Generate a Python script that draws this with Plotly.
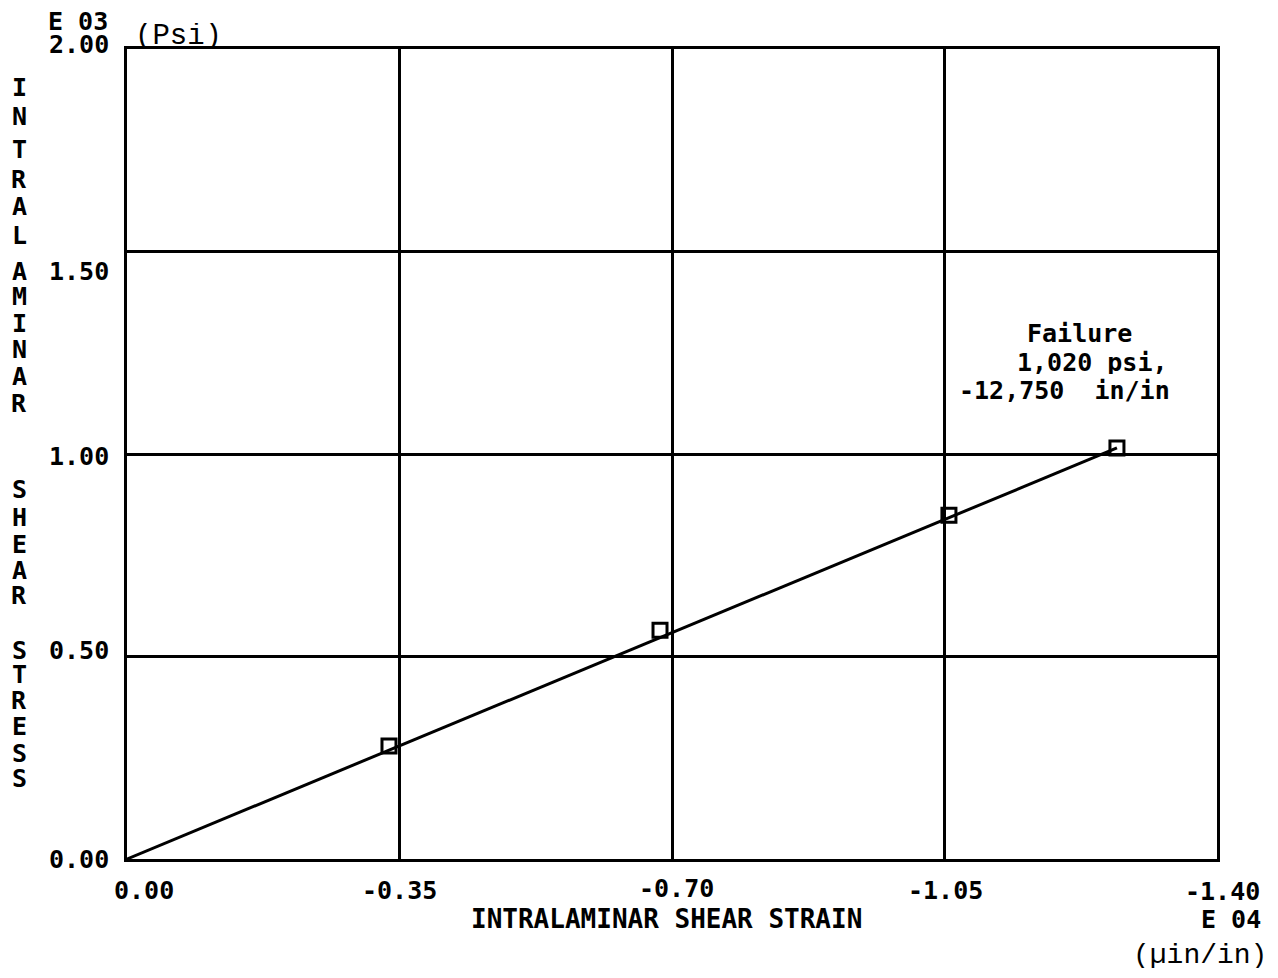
import plotly.graph_objects as go

# ---- data ----
x_ticks = [0.0, -0.35, -0.70, -1.05, -1.40]
x_tick_labels = ["0.00", "-0.35", "-0.70", "-1.05", "-1.40"]
y_ticks = [0.0, 0.5, 1.0, 1.5, 2.0]
y_tick_labels = ["0.00", "0.50", "1.00", "1.50", "2.00"]

line_strain = [0.0, -1.2715]
line_stress = [0.0, 1.015]

test_strain = [-0.3365, -0.6846, -1.0557, -1.2715]
test_stress = [0.279, 0.565, 0.849, 1.015]

y_title = "INTRALAMINAR SHEAR STRESS"
x_title = "INTRALAMINAR SHEAR STRAIN"
failure_lines = ["Failure", "1,020 psi,", "-12,750  in/in"]

# ---- layout geometry (pixels in the screenshot) ----
OFFX, OFFY = 6, 7  # page body offset
W, H = 1278 - 16, 978 - 16
L, R, T, B = 125, 1215, 48, 858


def px(x):
    return (x - L) / (R - L)


def py(y):
    return (B - y) / (B - T)


MONO = "DejaVu Sans Mono"
SERIF_MONO = "Liberation Mono"

fig = go.Figure()
fig.add_trace(go.Scatter(x=line_strain, y=line_stress, mode="lines",
                         line=dict(color="black", width=3),
                         showlegend=False, hoverinfo="skip"))
fig.add_trace(go.Scatter(x=test_strain, y=test_stress, mode="markers",
                         marker=dict(symbol="square-open", size=14, color="black",
                                     line=dict(color="black", width=3)),
                         showlegend=False))

ann = []
bold = dict(family=MONO, size=25, color="black", weight="bold")

# y tick labels (plotter text rows, slightly offset from gridlines)
y_label_px = [858, 649, 455, 270, 43]
for lab, ypx in zip(y_tick_labels, y_label_px):
    ann.append(dict(x=px(108), y=py(ypx), xref="paper", yref="paper", text=lab,
                    showarrow=False, xanchor="right", yanchor="middle", font=bold,
                    height=20, borderpad=0))

# x tick labels
x_label_px = [142, 397, 674, 943, 1220]
x_label_py = [889, 889, 887, 889, 890]
for lab, xp, yp in zip(x_tick_labels, x_label_px, x_label_py):
    ann.append(dict(x=px(xp), y=py(yp), xref="paper", yref="paper", text=lab,
                    showarrow=False, xanchor="center", yanchor="middle", font=bold,
                    height=22, borderpad=0))

# exponent labels and units
ann.append(dict(x=px(107), y=py(20), xref="paper", yref="paper", text="E 03",
                showarrow=False, xanchor="right", yanchor="middle", font=bold,
                height=20, borderpad=0))
ann.append(dict(x=px(1260), y=py(918), xref="paper", yref="paper", text="E 04",
                showarrow=False, xanchor="right", yanchor="middle", font=bold,
                height=22, borderpad=0))
ann.append(dict(x=px(132), y=py(35), xref="paper", yref="paper", text="(Psi)",
                showarrow=False, xanchor="left", yanchor="middle",
                font=dict(family=SERIF_MONO, size=29, color="black"),
                height=26, borderpad=0))
ann.append(dict(x=px(1266), y=py(954), xref="paper", yref="paper", text="(\u00b5in/in)",
                showarrow=False, xanchor="right", yanchor="middle",
                font=dict(family=SERIF_MONO, size=28, color="black"),
                height=26, borderpad=0))

# x axis title
ann.append(dict(x=px(664), y=py(918), xref="paper", yref="paper", text=x_title,
                showarrow=False, xanchor="center", yanchor="middle",
                font=dict(family=MONO, size=26, color="black", weight="bold"),
                height=22, borderpad=0))

# vertical stacked y title
letter_py = [86, 115, 148, 178, 205, 234, 270, 295, 322, 348, 375, 402,
             None,
             488, 516, 543, 569, 594,
             None,
             649, 673, 699, 725, 752, 777]
for ch, yp in zip(y_title, letter_py):
    if ch == " " or yp is None:
        continue
    ann.append(dict(x=px(17), y=py(yp), xref="paper", yref="paper", text=ch,
                    showarrow=False, xanchor="center", yanchor="middle", font=bold,
                    height=20, borderpad=0))

# failure annotation
fail_cx = [1077, 1090, 1062]
fail_cy = [332, 361, 389]
for t, cx, cy in zip(failure_lines, fail_cx, fail_cy):
    ann.append(dict(x=px(cx), y=py(cy), xref="paper", yref="paper",
                    text=t.replace(" ", "&nbsp;"),
                    showarrow=False, xanchor="center", yanchor="middle", font=bold,
                    height=24, borderpad=0))

fig.update_layout(
    width=W, height=H,
    margin=dict(l=L - OFFX, r=W - (R - OFFX), t=T - OFFY, b=H - (B - OFFY), pad=0),
    paper_bgcolor="white", plot_bgcolor="white",
    annotations=ann,
    xaxis=dict(range=[0, -1.40], tickvals=x_ticks, showticklabels=False,
               showgrid=True, gridcolor="black", gridwidth=3,
               showline=True, linecolor="black", linewidth=3, mirror=True,
               zeroline=False, ticks=""),
    yaxis=dict(range=[0, 2.0], tickvals=y_ticks, showticklabels=False,
               showgrid=True, gridcolor="black", gridwidth=3,
               showline=True, linecolor="black", linewidth=3, mirror=True,
               zeroline=False, ticks=""),
)

fig.write_html("out.html")
